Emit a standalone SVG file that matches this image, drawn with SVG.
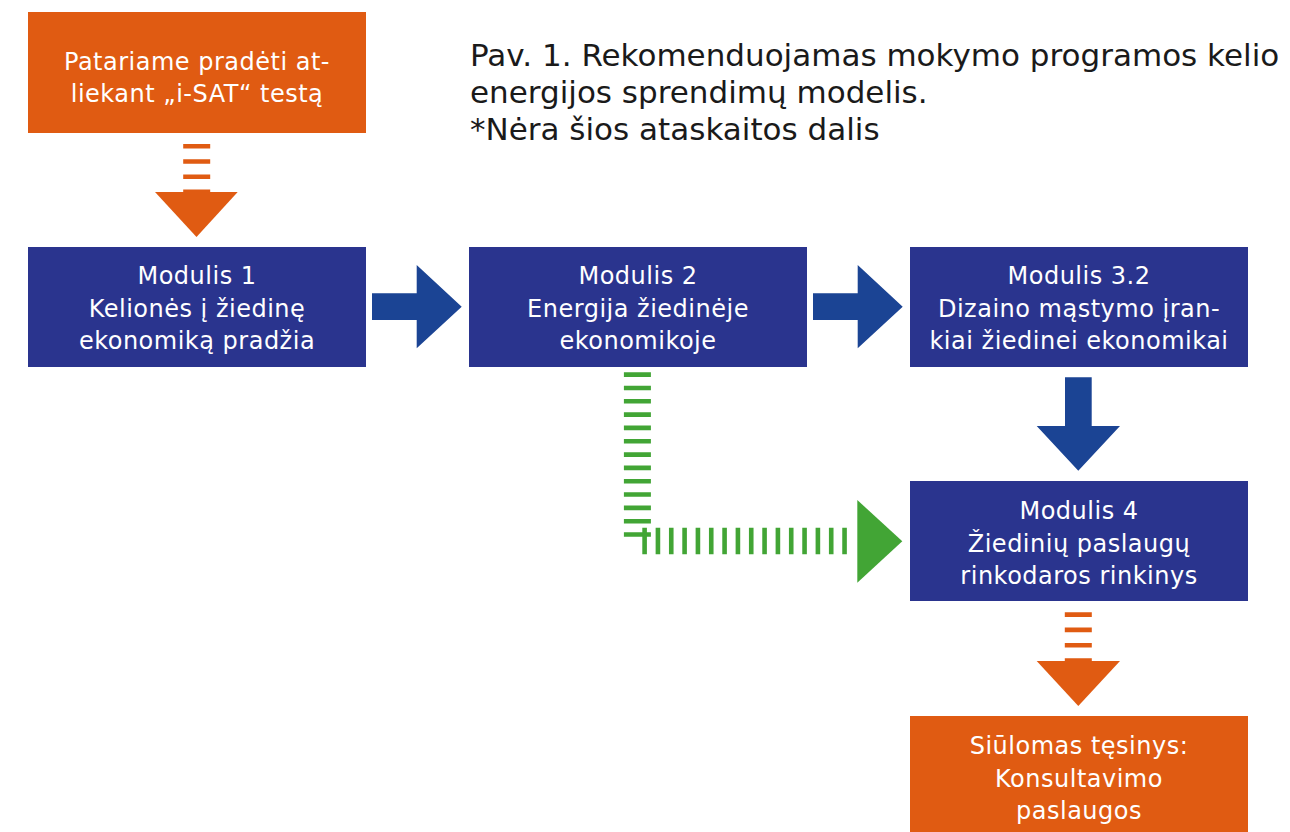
<svg xmlns="http://www.w3.org/2000/svg" width="1290" height="832" viewBox="0 0 1290 832">
<style>
.orange{fill:#E05B12}
.navy{fill:#2A348E}
.arrow{fill:#1B4494}
.green{fill:#42A535}
.t{font-family:"DejaVu Sans","Liberation Sans",sans-serif;font-size:24px;fill:#FFFFFF;text-anchor:middle;letter-spacing:0.5px}
.title{font-family:"DejaVu Sans","Liberation Sans",sans-serif;font-size:31px;fill:#1A1A1A}
.ostripe{stroke:#E05B12;stroke-width:27;stroke-dasharray:4.6 10.6;fill:none}
.gstripe{stroke:#42A535;stroke-width:27;stroke-dasharray:4.6 8.73;fill:none}
</style>
<rect width="1290" height="832" fill="#FFFFFF"/>
<g id="title">
<text class="title" x="470" y="66">Pav. 1. Rekomenduojamas mokymo programos kelio</text>
<text class="title" x="470" y="103">energijos sprendimų modelis.</text>
<text class="title" x="470" y="140">*Nėra šios ataskaitos dalis</text>
</g>
<g id="start">
<rect class="orange" x="28" y="12" width="338" height="121"/>
<text class="t" x="197" y="69.5">Patariame pradėti at-</text>
<text class="t" x="197" y="101.5">liekant „i-SAT“ testą</text>
</g>
<g id="modulis1">
<rect class="navy" x="28" y="247" width="338" height="120"/>
<text class="t" x="197" y="284">Modulis 1</text>
<text class="t" x="197" y="316.5">Kelionės į žiedinę</text>
<text class="t" x="197" y="349">ekonomiką pradžia</text>
</g>
<g id="modulis2">
<rect class="navy" x="469" y="247" width="338" height="120"/>
<text class="t" x="638" y="284">Modulis 2</text>
<text class="t" x="638" y="316.5">Energija žiedinėje</text>
<text class="t" x="638" y="349">ekonomikoje</text>
</g>
<g id="modulis32">
<rect class="navy" x="910" y="247" width="338" height="120"/>
<text class="t" x="1079" y="284">Modulis 3.2</text>
<text class="t" x="1079" y="316.5">Dizaino mąstymo įran-</text>
<text class="t" x="1079" y="349">kiai žiedinei ekonomikai</text>
</g>
<g id="modulis4">
<rect class="navy" x="910" y="481" width="338" height="120"/>
<text class="t" x="1079" y="519">Modulis 4</text>
<text class="t" x="1079" y="551.5">Žiedinių paslaugų</text>
<text class="t" x="1079" y="584">rinkodaros rinkinys</text>
</g>
<g id="continuation">
<rect class="orange" x="910" y="716" width="338" height="120"/>
<text class="t" x="1079" y="754">Siūlomas tęsinys:</text>
<text class="t" x="1079" y="786.5">Konsultavimo</text>
<text class="t" x="1079" y="819">paslaugos</text>
</g>
<g id="connectors">
<path class="ostripe" d="M196.7 144 V192"/>
<polygon class="orange" points="155,192 237.7,192 196.5,237"/>
<polygon class="arrow" points="372,293.3 416.7,293.3 416.7,265 461.7,306.7 416.7,348.3 416.7,320 372,320"/>
<polygon class="arrow" points="813,293.3 857.7,293.3 857.7,265 902.7,306.7 857.7,348.3 857.7,320 813,320"/>
<polygon class="arrow" points="1065,377.3 1091.7,377.3 1091.7,426 1120,426 1078.3,470.7 1036.7,426 1065,426"/>
<path class="gstripe" d="M637.4 372.3 V537"/>
<path class="gstripe" d="M642.3 541 H850" style="stroke-width:26.6"/>
<polygon class="green" points="857.3,500 902.3,541.3 857.3,582.7"/>
<path class="ostripe" d="M1078.3 612.3 V661" style="stroke-dasharray:4.6 10.7"/>
<polygon class="orange" points="1036.7,661 1120,661 1078.3,706"/>
</g>
</svg>
